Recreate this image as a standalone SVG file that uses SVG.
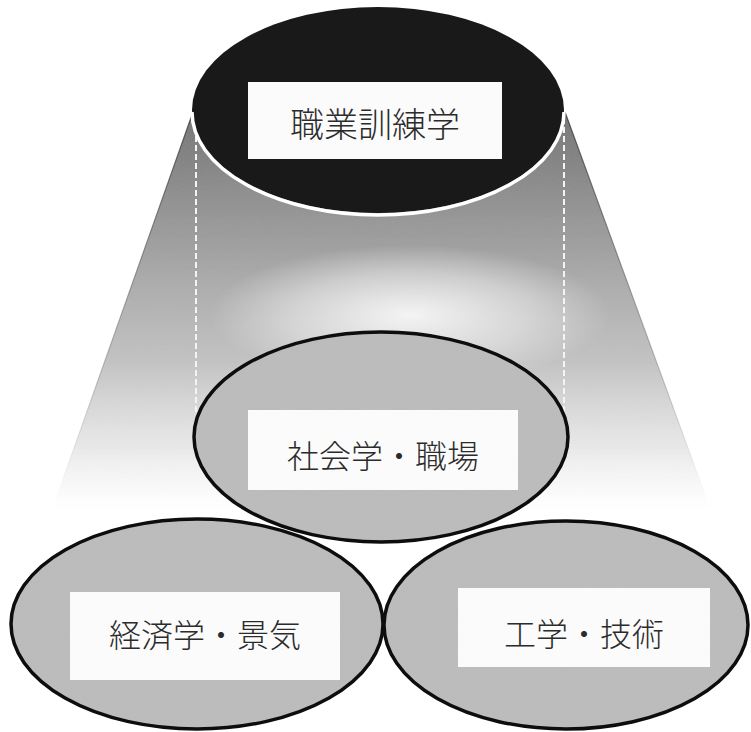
<svg xmlns="http://www.w3.org/2000/svg" width="751" height="732" viewBox="0 0 751 732">
  <style>
    .lbl { font-family: "Noto Sans CJK JP", "Noto Sans CJK SC", sans-serif; font-weight: 300; fill: #2b2b2b; text-anchor: middle; dominant-baseline: central; }
    .box { fill: #fbfbfb; }
    .ofill { fill: #bcbcbc; }
    .oline { fill: none; stroke: #0d0d0d; stroke-width: 3.5; }
    .dash { stroke: #f4f4f4; stroke-width: 2; stroke-dasharray: 6 3; fill: none; }
  </style>
  <defs>
    <linearGradient id="coneGrad" gradientUnits="userSpaceOnUse" x1="0" y1="112" x2="0" y2="530">
      <stop offset="0" stop-color="#6e6e6e" stop-opacity="1"/>
      <stop offset="0.35" stop-color="#a2a2a2" stop-opacity="1"/>
      <stop offset="0.6" stop-color="#bdbdbd" stop-opacity="0.9"/>
      <stop offset="0.8" stop-color="#cfcfcf" stop-opacity="0.45"/>
      <stop offset="0.95" stop-color="#e0e0e0" stop-opacity="0"/>
      <stop offset="1" stop-color="#ffffff" stop-opacity="0"/>
    </linearGradient>
    <radialGradient id="glow" gradientUnits="userSpaceOnUse" cx="410" cy="315" r="200" gradientTransform="translate(410 315) scale(1 0.35) translate(-410 -315)">
      <stop offset="0" stop-color="#ffffff" stop-opacity="0.85"/>
      <stop offset="0.6" stop-color="#ffffff" stop-opacity="0.4"/>
      <stop offset="1" stop-color="#ffffff" stop-opacity="0"/>
    </radialGradient>
    <linearGradient id="edgeGrad" gradientUnits="userSpaceOnUse" x1="0" y1="112" x2="0" y2="500">
      <stop offset="0" stop-color="#333" stop-opacity="0.8"/>
      <stop offset="0.7" stop-color="#777" stop-opacity="0.4"/>
      <stop offset="1" stop-color="#aaa" stop-opacity="0"/>
    </linearGradient>
    <filter id="grain" x="0" y="0" width="100%" height="100%">
      <feTurbulence type="fractalNoise" baseFrequency="0.9" numOctaves="1" seed="3" result="n"/>
      <feColorMatrix in="n" type="matrix" values="0 0 0 0 0.5  0 0 0 0 0.5  0 0 0 0 0.5  0 0 0 0.18 0" result="g"/>
      <feComposite in="g" in2="SourceGraphic" operator="in" result="gi"/>
      <feMerge><feMergeNode in="SourceGraphic"/><feMergeNode in="gi"/></feMerge>
    </filter>
  </defs>

  <rect width="751" height="732" fill="#ffffff"/>

  <g id="cone">
    <path d="M193,112 L565,112 L718,530 L45,530 Z" fill="url(#coneGrad)" filter="url(#grain)"/>
    <path d="M193,112 L565,112 L718,530 L45,530 Z" fill="url(#glow)"/>
    <path d="M193,112 L45,530 M565,112 L718,530" stroke="url(#edgeGrad)" stroke-width="1.2" fill="none"/>
    <line class="dash" x1="196" y1="118" x2="196" y2="415"/>
    <line class="dash" x1="564" y1="118" x2="564" y2="420"/>
  </g>

  <g id="node-top">
    <ellipse cx="378" cy="110" rx="186" ry="103" fill="#191919"/>
    <path d="M192,112 A186,103 0 0 0 564,112" fill="none" stroke="#ffffff" stroke-width="3.5"/>
    <rect class="box" x="248" y="82" width="254" height="77"/>
    <text class="lbl" x="375" y="122" font-size="34">職業訓練学</text>
  </g>

  <g id="node-economics">
    <ellipse class="ofill" cx="197" cy="624" rx="186" ry="105" filter="url(#grain)"/>
    <ellipse class="oline" cx="197" cy="624" rx="186" ry="105"/>
    <rect class="box" x="70" y="592" width="270" height="88"/>
    <text class="lbl" x="205" y="633" font-size="32">経済学・景気</text>
  </g>

  <g id="node-engineering">
    <ellipse class="ofill" cx="566" cy="625" rx="182" ry="104" filter="url(#grain)"/>
    <ellipse class="oline" cx="566" cy="625" rx="182" ry="104"/>
    <rect class="box" x="458" y="588" width="252" height="79"/>
    <text class="lbl" x="584" y="632" font-size="32">工学・技術</text>
  </g>

  <g id="node-sociology">
    <ellipse class="ofill" cx="381" cy="437" rx="187" ry="105" filter="url(#grain)"/>
    <ellipse class="oline" cx="381" cy="437" rx="187" ry="105"/>
    <rect class="box" x="248" y="410" width="270" height="80"/>
    <text class="lbl" x="383" y="454" font-size="32">社会学・職場</text>
  </g>

  <g id="connectors"></g>
</svg>
